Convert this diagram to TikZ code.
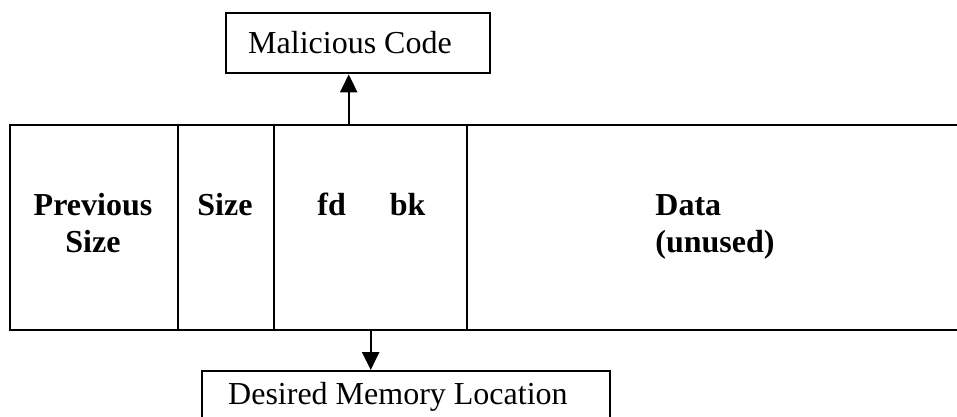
\documentclass[tikz,border=0pt]{standalone}
\usepackage{fontspec}
\setmainfont{Liberation Serif}
\usepackage{tikz}
\usetikzlibrary{arrows.meta}

\begin{document}
\begin{tikzpicture}
		[x=0.5pt,y=-0.5pt,
		 cell/.style= {draw=black,line width=1.2pt,inner sep=0pt,minimum height=102.5pt,anchor=north west},
		 lbl/.style= {font=\fontsize{16}{18.5}\selectfont\bfseries,align=center,inner sep=0pt,anchor=base},
		 bx/.style= {draw=black,line width=1.2pt,font=\fontsize{16}{18.5}\selectfont,align=flush left,anchor=north west,text height=10pt},
		 ptr/.style= {line width=1.2pt,-{Triangle[length=9pt,width=8.5pt]}}]

		\path[use as bounding box,clip] (0,0) rectangle (957,417);

		\node[cell,minimum width=84pt] (prev) at (9,124) {};
		\node[cell,minimum width=48pt] (size) at (177,124) {};
		\node[cell,minimum width=96.5pt] (ptrs) at (273,124) {};
		\node[cell,minimum width=267pt] (data) at (466,124) {};

		% two-line labels sit on the baseline of their last line
		\node[lbl] (prevtxt) at (93,252) {Previous\\Size};
		\node[lbl] (sizetxt) at (225,215) {Size};
		\node[lbl,anchor=base west] (fdbk) at (317,215) {fd\hspace{22pt}bk};
		\node[lbl,anchor=base west,align=flush left] (datatxt) at (655,252) {Data\\(unused)};

		\node[bx,text width=110pt,inner xsep=11pt,inner ysep=10pt,text depth=0pt] (mal) at (225,12) {Malicious Code};

		\node[bx,text width=178pt,inner xsep=13pt,inner ysep=6.5pt,text depth=4pt] (dml) at (201,370) {Desired Memory Location};

		\draw[ptr] ([xshift=-11pt]ptrs.north) -- ([xshift=-11pt]ptrs.north |- mal.south);
		\draw[ptr] (ptrs.south) -- (ptrs.south |- dml.north);

	\end{tikzpicture}
\end{document}
